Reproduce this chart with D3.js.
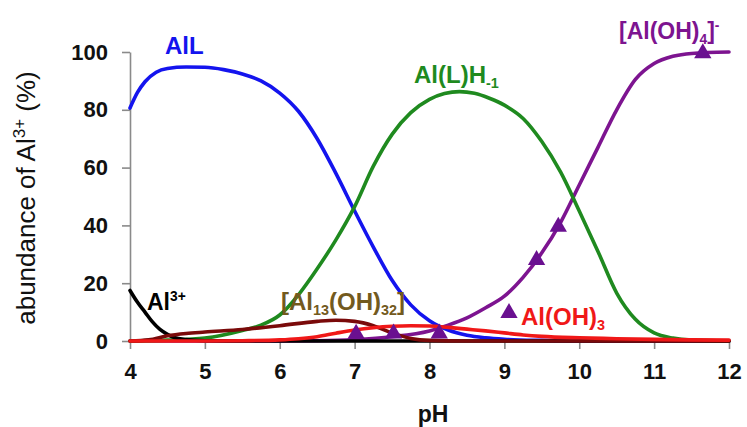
<!DOCTYPE html>
<html>
<head>
<meta charset="utf-8">
<script src="https://cdn.jsdelivr.net/npm/d3@7"></script>
<style>
  html, body { margin: 0; padding: 0; background: #fff; }
  svg { display: block; font-family: "Liberation Sans", Arial, sans-serif; }
</style>
</head>
<body>
<svg id="chart" width="747" height="427"></svg>
<script>
// ---- data (pH, % abundance of Al3+) ----
const xTicks = [4, 5, 6, 7, 8, 9, 10, 11, 12];
const yTicks = [0, 20, 40, 60, 80, 100];

const alL_pH  = [4, 4.1, 4.2, 4.35, 4.5, 4.75, 5, 5.25, 5.5, 5.75, 6, 6.25, 6.5, 6.75, 7, 7.25, 7.5, 7.75, 8, 8.25, 8.5, 8.75, 9, 9.5, 10, 11, 12];
const alL_val = [80.6, 86, 89.7, 93, 94.3, 94.8, 94.7, 93.9, 92.4, 90, 85.8, 79.5, 70, 58, 45, 32.5, 21, 12.5, 7, 3.8, 2, 1.1, 0.6, 0.2, 0.05, 0, 0];

const alLH_pH  = [4, 4.5, 5, 5.5, 5.75, 6, 6.25, 6.5, 6.75, 7, 7.25, 7.5, 7.75, 8, 8.2, 8.4, 8.6, 8.8, 9, 9.25, 9.5, 9.75, 10, 10.25, 10.5, 10.75, 11, 11.25, 11.5, 12];
const alLH_val = [0, 0.3, 1, 3.6, 5.5, 9, 16, 25, 35, 46.5, 60.5, 71.5, 79, 83.6, 85.6, 86.3, 85.7, 84, 81.6, 77, 69, 58.5, 45, 31, 16.6, 7.5, 2.8, 1, 0.3, 0];

const alOH4_pH  = [4, 6, 6.5, 7, 7.5, 8, 8.25, 8.5, 8.75, 9, 9.25, 9.5, 9.75, 10, 10.25, 10.5, 10.75, 11, 11.25, 11.5, 12];
const alOH4_val = [0, 0, 0.1, 0.5, 1.5, 3.5, 5.5, 8, 11.5, 15.5, 22, 30.5, 41, 54, 67, 80, 90.5, 96, 98.5, 99.5, 100];

const alOH3_pH  = [4, 5, 5.5, 6, 6.25, 6.5, 6.75, 7, 7.25, 7.5, 7.75, 8, 8.25, 8.5, 8.75, 9, 9.25, 9.5, 10, 10.5, 11, 11.5, 12];
const alOH3_val = [0, 0, 0.1, 0.4, 0.8, 1.5, 2.7, 3.8, 4.6, 5.1, 5.3, 5.2, 4.7, 4.1, 3.5, 2.8, 2.1, 1.6, 1.1, 0.8, 0.55, 0.4, 0.3];

const al13_pH  = [4, 4.25, 4.5, 4.75, 5, 5.5, 6, 6.5, 6.75, 7, 7.25, 7.5, 7.75, 8, 8.5, 12];
const al13_val = [0, 0.4, 1.8, 2.6, 3.1, 4, 5.3, 6.8, 7.2, 6.8, 5.3, 2.8, 0.9, 0.2, 0, 0];

const al3_pH  = [4, 4.1, 4.2, 4.3, 4.4, 4.5, 4.6, 4.75, 5, 5.5, 12];
const al3_val = [17.5, 13.4, 10, 6.6, 4, 2.3, 1.1, 0.5, 0.1, 0, 0];

const tri_pH  = [7.02, 7.52, 8.13, 9.43, 9.72, 11.65];
const tri_val = [2.5, 2.6, 2.6, 28, 39.5, 99.6];

// ---- chart ----
const svg = d3.select("#chart");
const x = d3.scaleLinear().domain([4, 12]).range([130, 729]);
const y = d3.scaleLinear().domain([0, 100]).range([341, 52]);

const axisColor = "#8a8a8a";

// axes
const gx = svg.append("g").attr("transform", "translate(0,341)")
  .call(d3.axisBottom(x).tickValues(xTicks).tickSize(8).tickSizeOuter(0).tickPadding(14).tickFormat(d3.format("d")));
const gy = svg.append("g").attr("transform", "translate(130,0)")
  .call(d3.axisLeft(y).tickValues(yTicks).tickSize(8).tickSizeOuter(0).tickPadding(14).tickFormat(d3.format("d")));
[gx, gy].forEach(g => {
  g.select(".domain").attr("stroke", axisColor).attr("stroke-width", 1.6);
  g.selectAll(".tick line").attr("stroke", axisColor).attr("stroke-width", 1.6);
  g.selectAll(".tick text").attr("fill", "#111").attr("font-size", 22).attr("font-weight", "bold")
    .attr("font-family", "Liberation Sans, Arial, sans-serif");
});

// axis titles
svg.append("text").attr("x", 433).attr("y", 422).attr("text-anchor", "middle")
  .attr("font-size", 23).attr("font-weight", "bold").attr("fill", "#111").text("pH");

const yl = svg.append("text").attr("transform", "translate(35,198) rotate(-90)")
  .attr("text-anchor", "middle").attr("font-size", 26).attr("fill", "#111");
yl.append("tspan").text("abundance of Al");
yl.append("tspan").attr("font-size", 17).attr("dy", -10).text("3+");
yl.append("tspan").attr("dy", 10).text(" (%)");

// lines
const line = d3.line().x(d => x(d[0])).y(d => y(d[1])).curve(d3.curveMonotoneX);
const zip = (a, b) => a.map((v, i) => [v, b[i]]);

const series = [
  { px: alOH4_pH, v: alOH4_val, c: "#7d1490" },
  { px: alL_pH,   v: alL_val,   c: "#1414ee" },
  { px: alLH_pH,  v: alLH_val,  c: "#1f8a1f" },
  { px: al3_pH,   v: al3_val,   c: "#000000" },
  { px: al13_pH,  v: al13_val,  c: "#7a0a0a" },
  { px: alOH3_pH, v: alOH3_val, c: "#f01818" }
];
series.forEach(s => {
  svg.append("path").attr("d", line(zip(s.px, s.v)))
    .attr("fill", "none").attr("stroke", s.c).attr("stroke-width", 3.6)
    .attr("stroke-linejoin", "round").attr("stroke-linecap", "round");
});

// triangle markers
const tri = d3.symbol().type(d3.symbolTriangle).size(130);
svg.selectAll("path.tri").data(zip(tri_pH, tri_val)).enter().append("path")
  .attr("class", "tri").attr("d", tri)
  .attr("transform", d => `translate(${x(d[0])},${y(d[1])})`)
  .attr("fill", "#6a1090");

// labels
function label(xp, yp, color, parts, size) {
  const t = svg.append("text").attr("x", xp).attr("y", yp).attr("fill", color)
    .attr("font-size", size).attr("font-weight", "bold");
  let shift = 0;
  parts.forEach(p => {
    const target = p.sub ? 5 : (p.sup ? -9 : 0);
    const ts = t.append("tspan").text(p.t).attr("dy", target - shift);
    if (p.sub || p.sup) ts.attr("font-size", size * 0.6);
    shift = target;
  });
  return t;
}
label(165, 54, "#1414ee", [{ t: "AlL" }], 24);
label(414, 83, "#1f8a1f", [{ t: "Al(L)H" }, { t: "-1", sub: true }], 24);
label(619, 39, "#7d1490", [{ t: "[Al(OH)" }, { t: "4", sub: true }, { t: "]" }, { t: "-", sup: true }], 23);
label(147, 310, "#000", [{ t: "Al" }, { t: "3+", sup: true }], 23);
label(281, 310, "#735a1e", [{ t: "[Al" }, { t: "13", sub: true }, { t: "(OH)" }, { t: "32", sub: true }, { t: "]" }], 24);
label(521, 325, "#f01818", [{ t: "Al(OH)" }, { t: "3", sub: true }], 24);

// legend triangle next to Al(OH)3
svg.append("path").attr("d", tri).attr("transform", `translate(${509},${313})`).attr("fill", "#6a1090");
</script>
</body>
</html>
